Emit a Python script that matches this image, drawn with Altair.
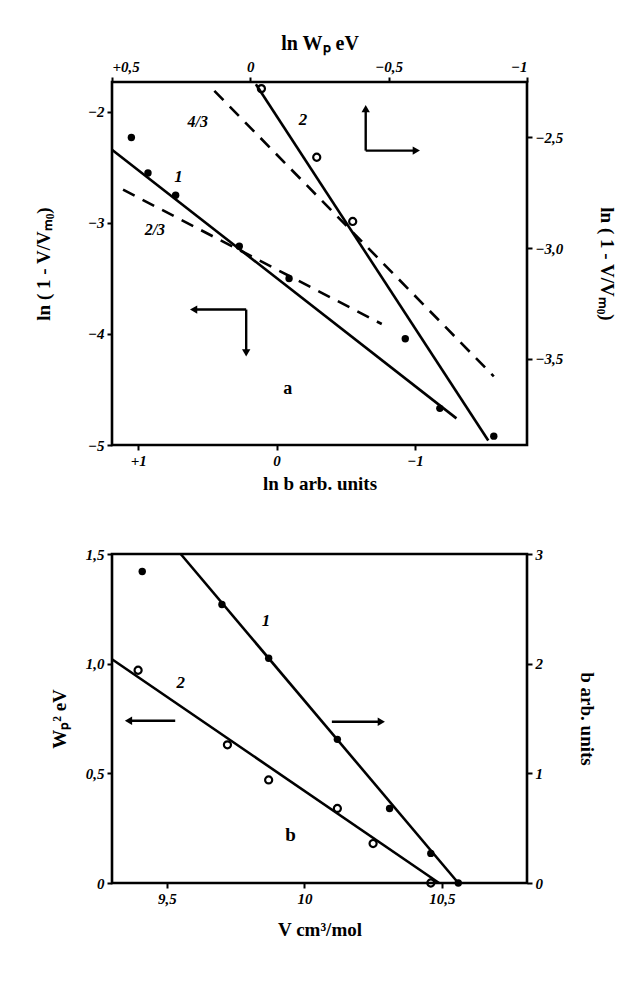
import altair as alt
import pandas as pd

# ---------------- data: panel a ----------------
# curve 1 (ln b, bottom/left axes), filled points
a1_lnb = [1.05, 0.93, 0.73, 0.27, -0.09, -1.18]
a1_lny = [-2.23, -2.55, -2.75, -3.21, -3.50, -4.67]
a1_fit_lnb = [1.19, -1.30]
a1_fit_lny = [-2.34, -4.76]
# dashed slope 2/3 (bottom/left axes)
a23_lnb = [1.11, -0.76]
a23_lny = [-2.70, -3.91]
# curve 2 (ln Wp, top/right axes)
a2_lnw = [-0.04, -0.24, -0.37, -0.56, -0.88]
a2_lny = [-2.28, -2.59, -2.88, -3.41, -3.85]
a2_filled = [False, False, False, True, True]
a2_fit_lnw = [-0.02, -0.86]
a2_fit_lny = [-2.26, -3.87]
# dashed slope 4/3 (top/right axes)
a43_lnw = [0.13, -0.88]
a43_lny = [-2.29, -3.58]

# ---------------- data: panel b ----------------
# curve 1: b (right axis), filled points
b_V = [9.41, 9.70, 9.87, 10.12, 10.31, 10.46, 10.56]
b_b = [2.84, 2.54, 2.05, 1.31, 0.68, 0.27, 0.0]
b_fit_V = [9.55, 10.56]
b_fit_b = [3.0, 0.0]
# curve 2: Wp^2 (left axis), open points
w_V = [9.395, 9.72, 9.87, 10.12, 10.25, 10.46]
w_W = [0.97, 0.63, 0.47, 0.34, 0.18, 0.0]
w_fit_V = [9.30, 10.49]
w_fit_W = [1.02, 0.0]

FONT = "Liberation Serif"


def lbl_expr(vals, labels):
    parts = [f"abs(datum.value - ({v})) < 1e-6 ? '{l}'" for v, l in zip(vals, labels)]
    return " : ".join(parts) + " : ''"


def axis(orient, title, vals, labels, tpad=6, tsize=19):
    return alt.Axis(orient=orient, title=title, values=vals,
                    labelExpr=lbl_expr(vals, labels), grid=False, domain=False,
                    ticks=True, tickSize=5, tickWidth=2, tickColor="black",
                    labelFont=FONT, labelFontSize=15, labelFontWeight="bold",
                    labelFontStyle="italic", labelColor="black", labelPadding=3,
                    titleFont=FONT, titleFontSize=tsize, titleFontWeight="bold",
                    titleColor="black", titlePadding=tpad)


def df(**cols):
    return pd.DataFrame(cols)


def group(xenc, yenc, lines=(), dashed=(), filled=(), opened=(), texts=(), arrows=()):
    layers = []
    for xs, ys in lines:
        layers.append(alt.Chart(df(x=xs, y=ys)).mark_line(color="black", strokeWidth=2.6)
                      .encode(x=xenc, y=yenc))
    for xs, ys in dashed:
        layers.append(alt.Chart(df(x=xs, y=ys)).mark_line(color="black", strokeWidth=2.6,
                                                         strokeDash=[13, 9])
                      .encode(x=xenc, y=yenc))
    if filled:
        xs, ys = filled
        layers.append(alt.Chart(df(x=xs, y=ys)).mark_point(filled=True, color="black", size=55,
                                                           opacity=1)
                      .encode(x=xenc, y=yenc))
    if opened:
        xs, ys = opened
        layers.append(alt.Chart(df(x=xs, y=ys)).mark_point(filled=False, color="black", size=50,
                                                           strokeWidth=2.2, opacity=1)
                      .encode(x=xenc, y=yenc))
    for xs, ys, ts, size, style in texts:
        layers.append(alt.Chart(df(x=xs, y=ys, t=ts)).mark_text(font=FONT, fontSize=size,
                                                               fontWeight="bold", fontStyle=style,
                                                               color="black")
                      .encode(x=xenc, y=yenc, text="t:N"))
    for x0, y0, x1, y1, shape in arrows:
        layers.append(alt.Chart(df(x=[x0], y=[y0], x2=[x1], y2=[y1])).mark_rule(
            color="black", strokeWidth=2.4)
            .encode(x=xenc, y=yenc, x2=alt.X2("x2:Q"), y2=alt.Y2("y2:Q")))
        layers.append(alt.Chart(df(x=[x1], y=[y1])).mark_point(
            shape=shape, filled=True, color="black", size=70, opacity=1)
            .encode(x=xenc, y=yenc))
    return alt.layer(*layers)


# ---------------- panel a ----------------
xa = alt.X("x:Q", scale=alt.Scale(domain=[-1.81, 1.19], reverse=True, nice=False, zero=False),
           axis=axis("bottom", "ln b  arb. units", [1, 0, -1], ["+1", "0", "−1"], tpad=6))
ya = alt.Y("y:Q", scale=alt.Scale(domain=[-5.0, -1.73], nice=False, zero=False),
           axis=axis("left", "ln ( 1 - V/Vₘ₀)", [-2, -3, -4, -5], ["−2", "−3", "−4", "−5"], tpad=34))
xb = alt.X("x:Q", scale=alt.Scale(domain=[-1.0, 0.5], reverse=True, nice=False, zero=False),
           axis=axis("top", "ln Wₚ  eV", [0.5, 0, -0.5, -1], ["+0,5", "0", "−0,5", "−1"], tpad=6,
                     tsize=20))
yb = alt.Y("y:Q", scale=alt.Scale(domain=[-3.89, -2.25], nice=False, zero=False),
           axis=axis("right", "ln ( 1 - V/Vₘ₀)", [-2.5, -3.0, -3.5], ["−2,5", "−3,0", "−3,5"], tpad=34))

gA = group(xa, ya,
           lines=[(a1_fit_lnb, a1_fit_lny)],
           dashed=[(a23_lnb, a23_lny)],
           filled=(a1_lnb, a1_lny),
           texts=[([0.71], [-2.59], ["1"], 17, "italic"),
                  ([0.88], [-3.06], ["2/3"], 16, "italic"),
                  ([-0.08], [-4.50], ["a"], 18, "normal")],
           arrows=[(0.22, -3.78, 0.60, -3.78, "triangle-left"),
                   (0.22, -3.78, 0.22, -4.17, "triangle-down")])

a2f_x = [v for v, f in zip(a2_lnw, a2_filled) if f]
a2f_y = [v for v, f in zip(a2_lny, a2_filled) if f]
a2o_x = [v for v, f in zip(a2_lnw, a2_filled) if not f]
a2o_y = [v for v, f in zip(a2_lny, a2_filled) if not f]

gB = group(xb, yb,
           lines=[(a2_fit_lnw, a2_fit_lny)],
           dashed=[(a43_lnw, a43_lny)],
           filled=(a2f_x, a2f_y),
           opened=(a2o_x, a2o_y),
           texts=[([0.19], [-2.43], ["4/3"], 16, "italic"),
                  ([-0.19], [-2.42], ["2"], 17, "italic")],
           arrows=[(-0.417, -2.56, -0.417, -2.37, "triangle-up"),
                   (-0.417, -2.56, -0.60, -2.56, "triangle-right")])

top = alt.layer(gA, gB).resolve_scale(x="independent", y="independent").properties(
    width=415, height=363)

# ---------------- panel b ----------------
xv = alt.X("x:Q", scale=alt.Scale(domain=[9.30, 10.81], nice=False, zero=False),
           axis=axis("bottom", "V cm³/mol", [9.5, 10, 10.5], ["9,5", "10", "10,5"], tpad=14))
yw = alt.Y("y:Q", scale=alt.Scale(domain=[0, 1.5], nice=False, zero=False),
           axis=axis("left", "Wₚ² eV", [0, 0.5, 1.0, 1.5], ["0", "0,5", "1,0", "1,5"], tpad=16))
ybb = alt.Y("y:Q", scale=alt.Scale(domain=[0, 3], nice=False, zero=False),
            axis=axis("right", "b arb. units", [0, 1, 2, 3], ["0", "1", "2", "3"], tpad=34))

gW = group(xv, yw,
           lines=[(w_fit_V, w_fit_W)],
           opened=(w_V, w_W),
           texts=[([9.55], [0.91], ["2"], 17, "italic"),
                  ([9.95], [0.22], ["b"], 19, "normal")],
           arrows=[(9.53, 0.74, 9.36, 0.74, "triangle-left")])
gBb = group(xv, ybb,
            lines=[(b_fit_V, b_fit_b)],
            filled=(b_V, b_b),
            texts=[([9.86], [2.39], ["1"], 17, "italic")],
            arrows=[(10.10, 1.47, 10.28, 1.47, "triangle-right")])

bottom = alt.layer(gW, gBb).resolve_scale(y="independent").properties(width=415, height=329)

chart = alt.vconcat(top, bottom, spacing=50).properties(
    padding={"left": 25, "top": 23, "right": 5, "bottom": 5},
    background="white",
).configure_view(stroke="black", strokeWidth=2.6)

chart.save("out.html", embed_options={"renderer": "svg", "actions": False})
